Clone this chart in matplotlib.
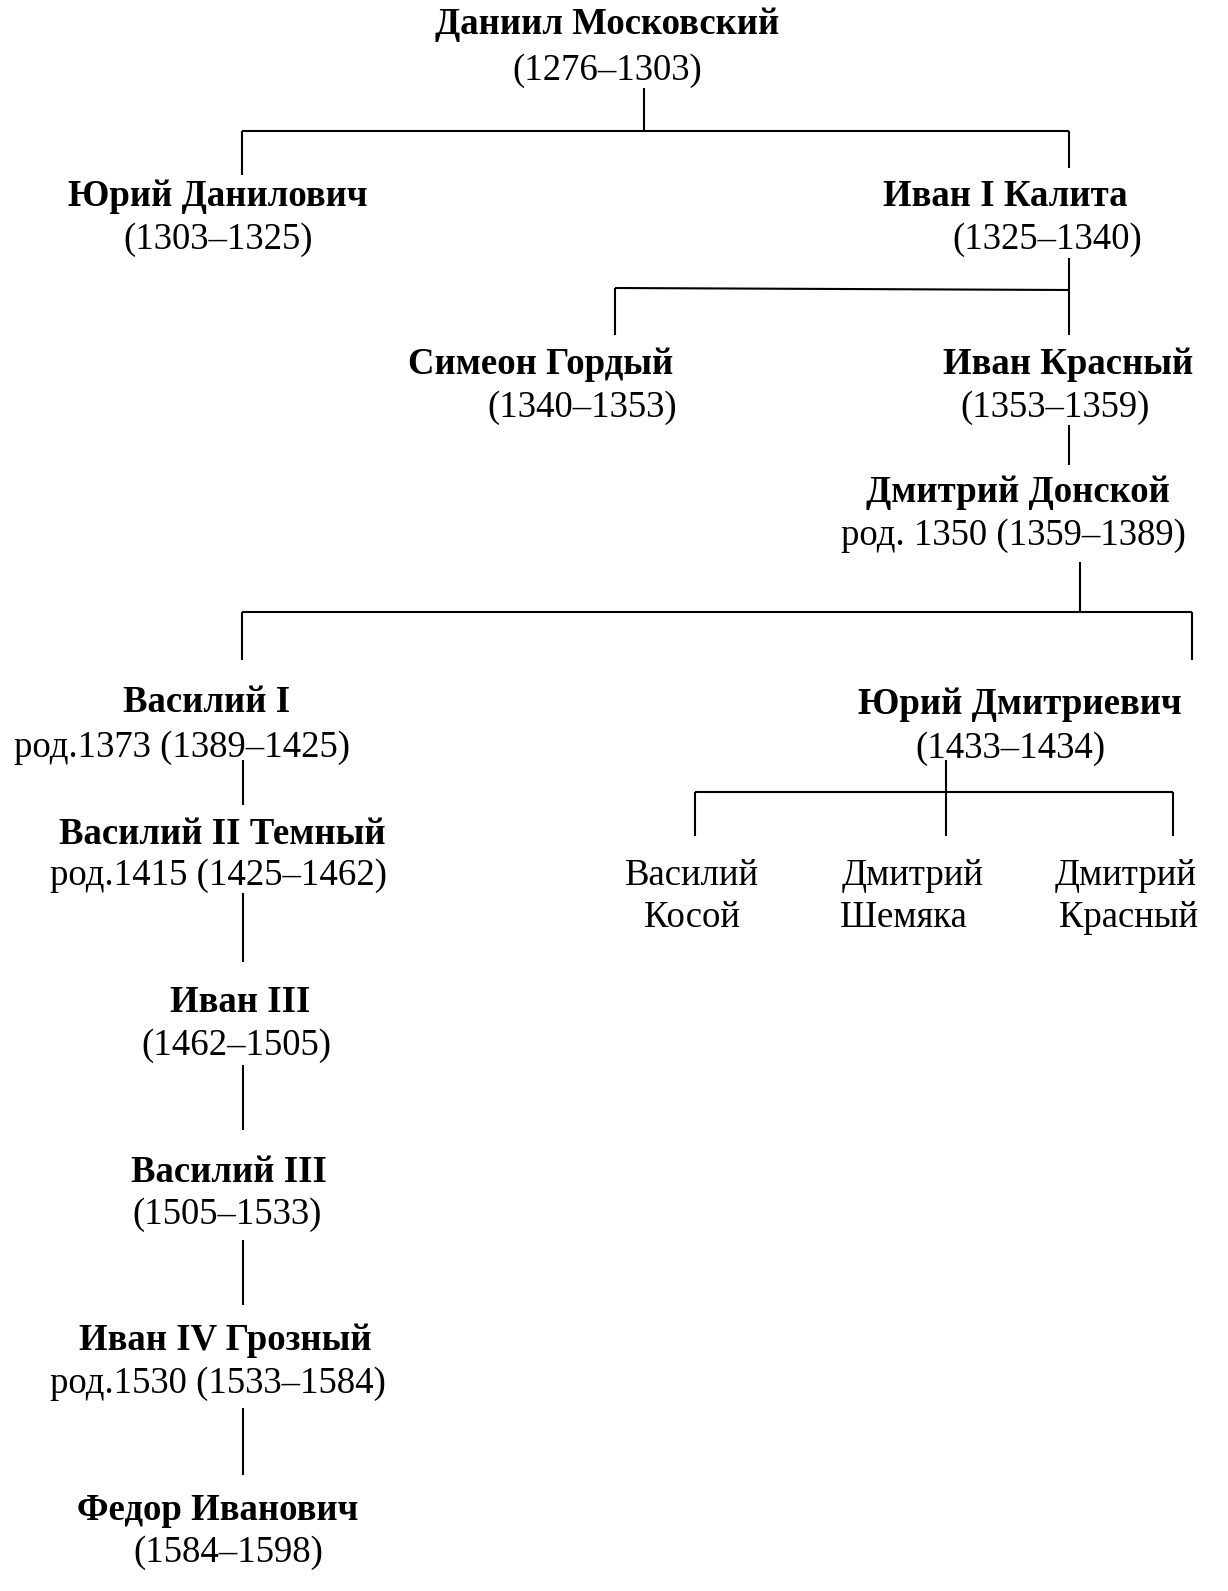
import matplotlib.pyplot as plt

plt.rcParams['font.family'] = ['Liberation Serif', 'DejaVu Serif']

# узлы: имя, годы, x-центр, y имени, y годов (пиксели)
names = ['Даниил Московский', 'Юрий Данилович', 'Иван I Калита', 'Симеон Гордый',
         'Иван Красный', 'Дмитрий Донской', 'Василий I', 'Юрий Дмитриевич',
         'Василий II Темный', 'Иван III', 'Василий III', 'Иван IV Грозный',
         'Федор Иванович']
dates = ['(1276–1303)', '(1303–1325)', '(1325–1340)', '(1340–1353)',
         '(1353–1359)', 'род. 1350 (1359–1389)', 'род.1373 (1389–1425)', '(1433–1434)',
         'род.1415 (1425–1462)', '(1462–1505)', '(1505–1533)', 'род.1530 (1533–1584)',
         '(1584–1598)']
name_x = [607, 218, 1005, 541, 1068, 1018, 207, 1020, 222, 240, 229, 225, 218]
date_x = [607, 218, 1047, 582, 1055, 1013, 182, 1010, 218, 236, 227, 218, 228]
name_y = [25, 196, 196, 365, 365, 493, 703, 704, 834, 1002, 1172, 1340, 1511]
date_y = [71, 240, 240, 408, 408, 536, 748, 749, 876, 1046, 1215, 1384, 1553]

# младшие сыновья Юрия Дмитриевича (обычный шрифт, две строки)
sons_1 = ['Василий', 'Дмитрий', 'Дмитрий']
sons_2 = ['Косой', 'Шемяка', 'Красный']
sons_x1 = [692, 913, 1126]
sons_x2 = [692, 903, 1129]
sons_y = [876, 918]

# соединительные линии: (x1, y1, x2, y2)
links = [
    (644, 88, 644, 131), (242, 131, 1069, 131), (242, 131, 242, 175), (1069, 131, 1069, 168),
    (1069, 258, 1069, 290), (615, 288, 1069, 290), (615, 288, 615, 335), (1069, 290, 1069, 335),
    (1069, 425, 1069, 465),
    (1080, 562, 1080, 612), (242, 612, 1192, 612), (242, 612, 242, 660), (1192, 612, 1192, 660),
    (243, 760, 243, 805), (243, 893, 243, 962), (243, 1065, 243, 1130),
    (243, 1240, 243, 1305), (243, 1408, 243, 1475),
    (946, 760, 946, 836), (695, 792, 1173, 792), (695, 792, 695, 836), (1173, 792, 1173, 836),
]

fig = plt.figure(figsize=(12.28, 15.91), dpi=100)
ax = fig.add_axes([0, 0, 1, 1])
ax.set_xlim(0, 1228)
ax.set_ylim(1591, 0)
ax.axis('off')

fs = 26.5
for n, d, nx, dx, ny, dy in zip(names, dates, name_x, date_x, name_y, date_y):
    ax.text(nx, ny, n, ha='center', va='center', fontsize=fs, fontweight='bold')
    ax.text(dx, dy, d, ha='center', va='center', fontsize=fs)

for a, b, xa, xb in zip(sons_1, sons_2, sons_x1, sons_x2):
    ax.text(xa, sons_y[0], a, ha='center', va='center', fontsize=fs)
    ax.text(xb, sons_y[1], b, ha='center', va='center', fontsize=fs)

for x1, y1, x2, y2 in links:
    ax.plot([x1, x2], [y1, y2], color='black', lw=1.5, solid_capstyle='butt')

fig.savefig('out.png', dpi=100)
